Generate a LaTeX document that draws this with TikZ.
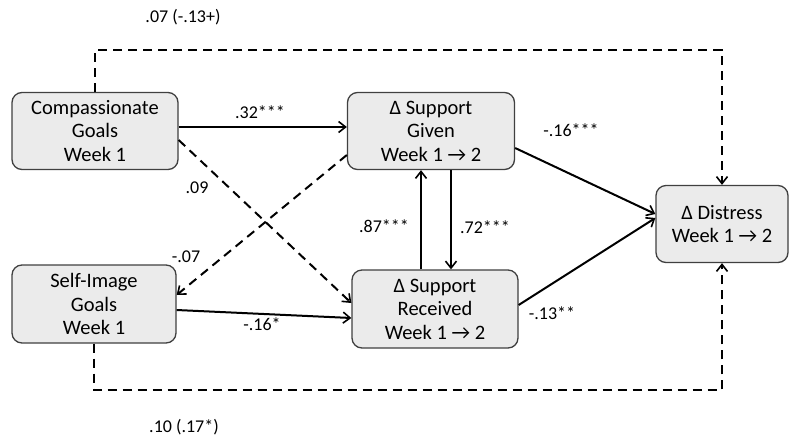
\documentclass[tikz,border=0pt]{standalone}
\usepackage{fontspec}
\setmainfont{Carlito}
\usetikzlibrary{arrows.meta,calc}
\begin{document}
\begin{tikzpicture}[x=1pt,y=-1pt,
  box/.style={draw=black!75,line width=1.3pt,rounded corners=10pt,fill=black!8,
    align=center,font=\fontsize{20.5}{23.5}\selectfont,inner sep=0pt},
  conn/.style={line width=2pt,-{Straight Barb[length=7pt,width=11pt,line width=1.6pt]}},
  dconn/.style={conn,dash pattern=on 9pt off 6pt},
  lab/.style={font=\fontsize{18}{20}\selectfont,inner sep=0pt}]
\useasboundingbox (0,0) rectangle (800,445);
\node[box,minimum width=166pt,minimum height=77pt] (cg) at (95,131) {Compassionate\\Goals\\Week 1};
\node[box,minimum width=164pt,minimum height=78pt] (sg) at (94,304) {Self-Image\\Goals\\Week 1};
\node[box,minimum width=167pt,minimum height=77pt] (gv) at (431,131) {Δ Support\\Given\\Week 1 → 2};
\node[box,minimum width=166pt,minimum height=78pt] (rc) at (435,309) {Δ Support\\Received\\Week 1 → 2};
\node[box,minimum width=132pt,minimum height=77pt] (ds) at (722,224) {Δ Distress\\Week 1 → 2};
\coordinate (tl) at (95,50);
\coordinate (tr) at (722,50);
\coordinate (bl) at (94,390);
\coordinate (br) at (722,390);
% dashed long paths
\draw[dconn] (cg.north) -- (tl) -- (tr) -- (ds.north);
\draw[dconn] (sg.south) -- (bl) -- (br) -- (ds.south);
% solid
\draw[conn] (cg.east |- 0,127) -- (gv.west |- 0,127);
\draw[conn] (sg.east |- 0,310) -- (rc.west |- 0,318);
\draw[dconn] (cg.east |- 0,140) -- (rc.west |- 0,303);
\draw[dconn] (gv.west |- 0,155) -- (sg.east |- 0,295);
\draw[conn] (rc.north -| 421,0) -- (gv.south -| 421,0);
\draw[conn] (gv.south -| 451,0) -- (rc.north -| 451,0);
\draw[conn] (gv.east |- 0,148) -- (ds.west |- 0,214);
\draw[conn] (rc.east |- 0,305) -- (ds.west |- 0,218);
% labels
\node[lab] (l1) at (260,112) {.32***};
\node[lab] (l2) at (197,188) {.09};
\node[lab] (l3) at (186,257) {-.07};
\node[lab] (l4) at (262,324) {-.16*};
\node[lab] (l5) at (384,226) {.87***};
\node[lab] (l6) at (485,227) {.72***};
\node[lab] (l7) at (571,130) {-.16***};
\node[lab] (l8) at (552,313) {-.13**};
\node[lab] (l9) at (183,17) {.07 (-.13+)};
\node[lab] (l10) at (184,427) {.10 (.17*)};
\end{tikzpicture}
\end{document}
